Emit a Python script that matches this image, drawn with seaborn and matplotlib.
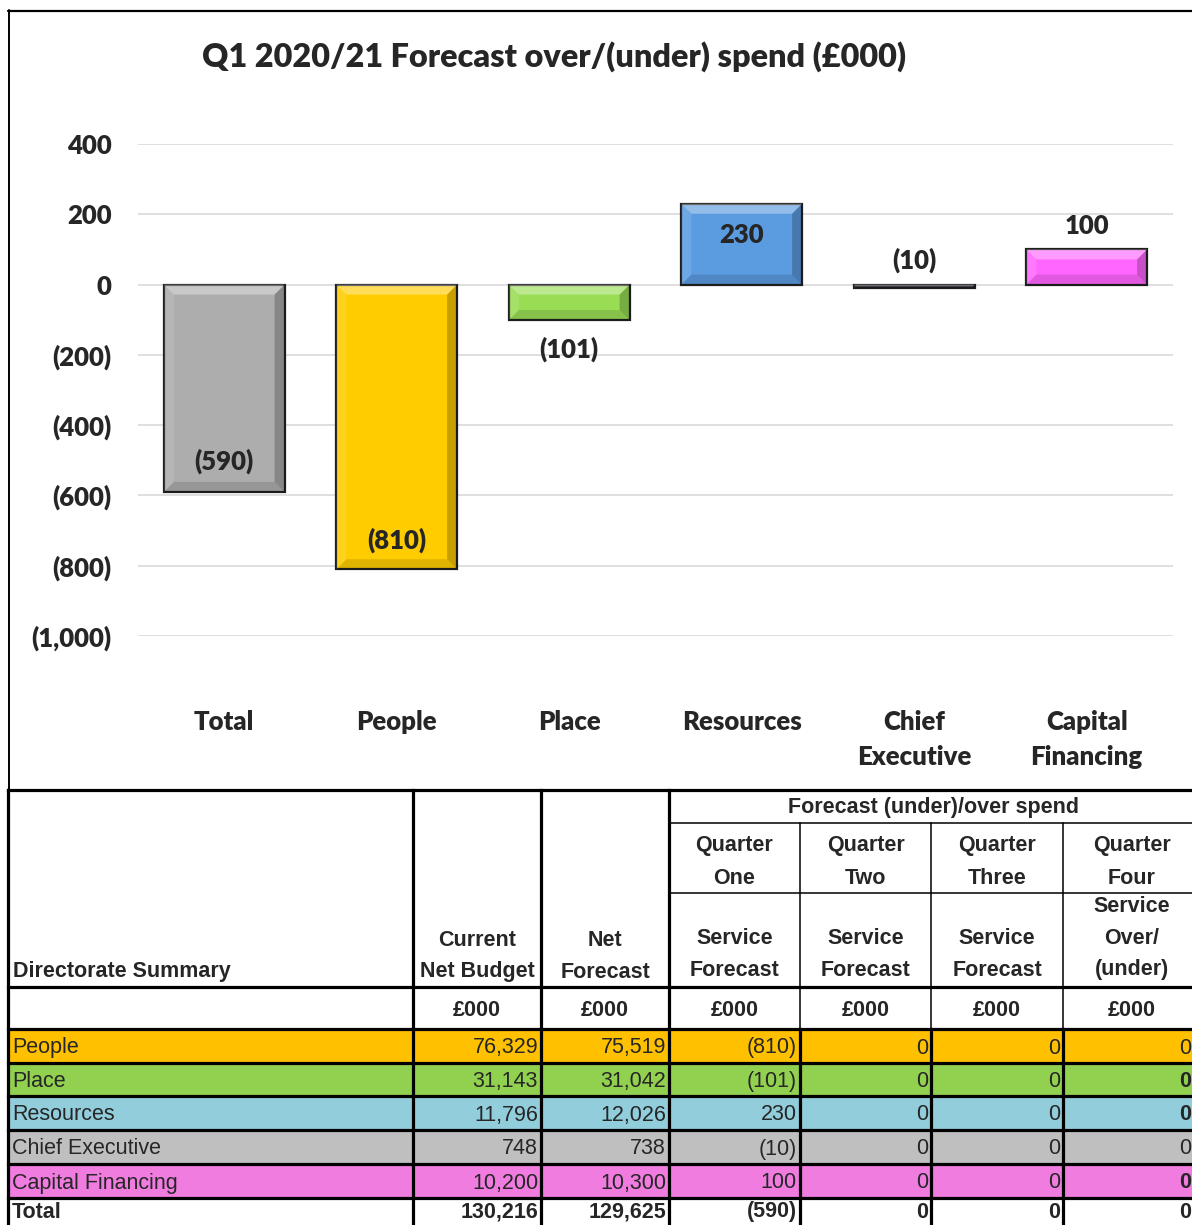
import matplotlib
matplotlib.use('Agg')
import matplotlib.pyplot as plt
from matplotlib.patches import Polygon
import pandas as pd
import seaborn as sns

# Chart data
categories = ['Total', 'People', 'Place', 'Resources', 'Chief Executive', 'Capital Financing']
tick_labels = ['Total', 'People', 'Place', 'Resources', 'Chief\nExecutive', 'Capital\nFinancing']
variance = [-590, -810, -101, 230, -10, 100]
bar_colours = ['#ADADAD', '#FFCC00', '#99DD55', '#5B9BE0', '#3A2F4A', '#FF66FF']
# label offset from bar end, in pixels (positive = up)
label_offsets = [31, 29, -29, -31, 28, 23]

# Table data
directorates = ['People', 'Place', 'Resources', 'Chief Executive', 'Capital Financing']
current_budget = [76329, 31143, 11796, 748, 10200]
net_forecast = [75519, 31042, 12026, 738, 10300]
q1_forecast = [-810, -101, 230, -10, 100]
q2_forecast = [0, 0, 0, 0, 0]
q3_forecast = [0, 0, 0, 0, 0]
q4_over_under = [0, 0, 0, 0, 0]
q4_bold = [False, True, True, False, True]
totals = [130216, 129625, -590, 0, 0, 0]
row_colours = ['#FFC000', '#92D050', '#92CDDC', '#BFBFBF', '#F07CE0']


def fmt(v):
    return f'({abs(v):,.0f})' if v < 0 else f'{v:,.0f}'


sns.set_theme(style='white')
plt.rcParams['font.family'] = ['Lato', 'DejaVu Sans']
cw = 'heavy'

W, H = 1192, 1225
fig = plt.figure(figsize=(W / 100, H / 100), dpi=100)

# ---- bar chart ----
ax = fig.add_axes([138 / W, 1 - 636 / H, (1173 - 138) / W, (636 - 144) / H])
df = pd.DataFrame({'category': categories, 'variance': variance})
sns.barplot(data=df, x='category', y='variance', hue='category', palette=bar_colours,
            legend=False, width=0.7, saturation=1, edgecolor='#1E1E1E', linewidth=1.6,
            ax=ax, zorder=3)
ax.set_ylim(-1000, 400)
ax.set_xlim(-0.5, 5.5)
ax.set_yticks(range(-1000, 401, 200))
ax.set_yticklabels([fmt(t) for t in range(-1000, 401, 200)], fontsize=18.5, fontweight=cw)
ax.set_xticks(range(len(categories)))
ax.set_xticklabels(tick_labels, fontsize=18.5, fontweight=cw, linespacing=1.55)
ax.tick_params(axis='y', length=0, pad=19)
ax.tick_params(axis='x', length=0, pad=53)
ax.grid(axis='y', color='#D9D9D9', linewidth=1.2, zorder=0)
ax.set_xlabel('')
ax.set_ylabel('')
for s in ax.spines.values():
    s.set_visible(False)

# bevel shading on each bar
px_x = (1173 - 138) / 6.0
px_y = (636 - 144) / 1400.0
for p in ax.patches:
    x0, x1 = p.get_x(), p.get_x() + p.get_width()
    y0, y1 = sorted([p.get_y(), p.get_y() + p.get_height()])
    b = min(10, abs(y1 - y0) * px_y / 2)
    bx, by = b / px_x, b / px_y
    inner = [(x0 + bx, y0 + by), (x1 - bx, y0 + by), (x1 - bx, y1 - by), (x0 + bx, y1 - by)]
    outer = [(x0, y0), (x1, y0), (x1, y1), (x0, y1)]
    shades = [('white', 0.35), ('black', 0.22), ('black', 0.12), ('white', 0.12)]
    # top, right, bottom, left
    for (a, bb, ia, ib), (col, al) in zip(
            [(outer[3], outer[2], inner[2], inner[3]), (outer[2], outer[1], inner[1], inner[2]),
             (outer[1], outer[0], inner[0], inner[1]), (outer[0], outer[3], inner[3], inner[0])],
            shades):
        ax.add_patch(Polygon([a, bb, ia, ib], closed=True, facecolor=col, alpha=al,
                             lw=0, zorder=4))

for i, (v, off) in enumerate(zip(variance, label_offsets)):
    ax.annotate(fmt(v), (i, v), xytext=(0, off * 0.72), textcoords='offset points',
                ha='center', va='center', fontsize=18.5, fontweight=cw, zorder=5)

fig.text(554 / W, 1 - 57 / H, 'Q1 2020/21 Forecast over/(under) spend (£000)',
         ha='center', va='center', fontsize=23.3, fontweight=cw)

# ---- table (pixel coordinates) ----
ov = fig.add_axes([0, 0, 1, 1], facecolor='none')
ov.set_xlim(0, W)
ov.set_ylim(H, 0)
ov.axis('off')

tfont = ['Liberation Sans', 'DejaVu Sans']
fs = 15.5
thick, thin = 2.3, 1.1

# chart frame
ov.plot([8.5, 8.5], [10, 790], color='black', lw=1.4)
ov.plot([8, W], [10.5, 10.5], color='black', lw=1.6)

col_edges = [8, 413, 541, 669, 800, 931, 1063, 1194]
row_edges = [1029, 1063, 1096, 1130, 1164, 1198, 1232]


def hline(y, x0, x1, lw):
    ov.plot([x0, x1], [y, y], color='black', lw=lw, solid_capstyle='projecting')


def vline(x, y0, y1, lw):
    ov.plot([x, x], [y0, y1], color='black', lw=lw, solid_capstyle='projecting')


def cell_text(x, y, s, ha='center', bold=False):
    ov.text(x, y, s, ha=ha, va='center', fontsize=fs, family=tfont,
            fontweight='bold' if bold else 'normal')


# row fills
for r, c in enumerate(row_colours):
    ov.fill_between([8, 1200], row_edges[r], row_edges[r + 1], color=c, lw=0)

# lines
for y in [790, 987, 1029] + row_edges[1:-1]:
    hline(y, 8, 1200, thick)
for y in [823, 893]:
    hline(y, 669, 1200, thin)
for x in col_edges[:4]:
    vline(x, 790, H, thick)
for x in col_edges[4:7]:
    vline(x, 823, 1029, thin)
    vline(x, 1029, H, thick)

# header text
centres = [(col_edges[i] + col_edges[i + 1]) / 2 for i in range(len(col_edges) - 1)]
centres[-1] = 1132
cell_text(934, 808, 'Forecast (under)/over spend', bold=True)
cell_text(13, 972, 'Directorate Summary', ha='left', bold=True)
cell_text(centres[1], 941, 'Current', bold=True)
cell_text(centres[1], 972, 'Net Budget', bold=True)
cell_text(centres[2], 941, 'Net', bold=True)
cell_text(centres[2], 972, 'Forecast', bold=True)
for i, word in zip(range(3, 7), ['One', 'Two', 'Three', 'Four']):
    cell_text(centres[i], 846, 'Quarter', bold=True)
    cell_text(centres[i], 879, word, bold=True)
for i in range(3, 6):
    cell_text(centres[i], 938, 'Service', bold=True)
    cell_text(centres[i], 970, 'Forecast', bold=True)
cell_text(centres[6], 906, 'Service', bold=True)
cell_text(centres[6], 938, 'Over/', bold=True)
cell_text(centres[6], 970, '(under)', bold=True)
for i in range(1, 7):
    cell_text(centres[i], 1011, '£000', bold=True)

# body
columns = [current_budget, net_forecast, q1_forecast, q2_forecast, q3_forecast, q4_over_under]
for r, name in enumerate(directorates):
    yc = (row_edges[r] + row_edges[r + 1]) / 2 + 2
    cell_text(12, yc, name, ha='left')
    for c, col in enumerate(columns):
        bold = q4_bold[r] if c == 5 else False
        cell_text(col_edges[c + 2] - 3, yc, fmt(col[r]), ha='right', bold=bold)
yc = 1212
cell_text(12, yc, 'Total', ha='left', bold=True)
for c, v in enumerate(totals):
    cell_text(col_edges[c + 2] - 3, yc, fmt(v), ha='right', bold=True)

fig.savefig('out.png', dpi=100)
